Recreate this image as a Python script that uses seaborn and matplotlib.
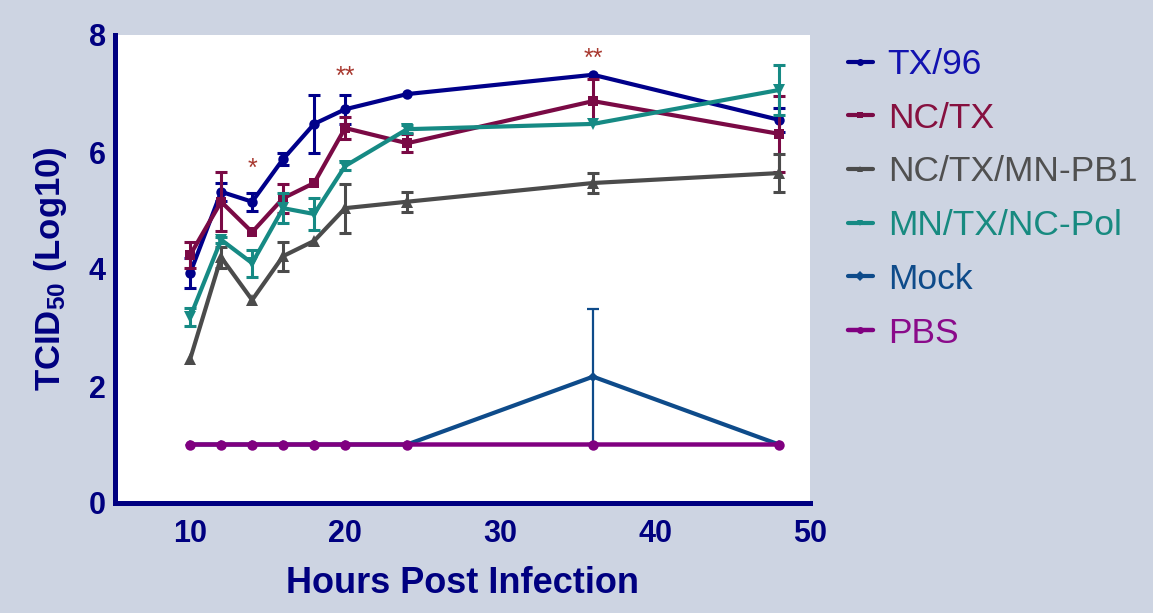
import numpy as np
import pandas as pd
import matplotlib
matplotlib.use("Agg")
import matplotlib.pyplot as plt
import seaborn as sns

# ---------------- data ----------------
hours = [10, 12, 14, 16, 18, 20, 24, 36, 48]
series_names = ["TX/96", "NC/TX", "NC/TX/MN-PB1", "MN/TX/NC-Pol", "Mock", "PBS"]

tx96 = [3.93, 5.32, 5.15, 5.88, 6.48, 6.73, 6.99, 7.32, 6.55]
tx96_err = [0.25, 0.15, 0.15, 0.10, 0.50, 0.25, 0.0, 0.0, 0.20]
nctx = [4.24, 5.15, 4.63, 5.21, 5.47, 6.41, 6.15, 6.87, 6.31]
nctx_err = [0.23, 0.50, 0.0, 0.25, 0.0, 0.18, 0.15, 0.38, 0.65]
pb1 = [2.46, 4.20, 3.47, 4.22, 4.48, 5.04, 5.15, 5.47, 5.64]
pb1_err = [0.0, 0.18, 0.0, 0.25, 0.0, 0.42, 0.17, 0.17, 0.33]
pol = [3.18, 4.50, 4.10, 5.04, 4.94, 5.76, 6.39, 6.48, 7.06]
pol_err = [0.15, 0.05, 0.23, 0.26, 0.28, 0.07, 0.07, 0.0, 0.42]
mock = [1.0, 1.0, 1.0, 1.0, 1.0, 1.0, 1.0, 2.16, 1.0]
mock_err = [0, 0, 0, 0, 0, 0, 0, 1.15, 0]
pbs = [1.0, 1.0, 1.0, 1.0, 1.0, 1.0, 1.0, 1.0, 1.0]
pbs_err = [0, 0, 0, 0, 0, 0, 0, 0, 0]

sig_hours = [14, 20, 36]
sig_labels = ["*", "**", "**"]
sig_y = [5.72, 7.28, 7.59]

xticks = [10, 20, 30, 40, 50]
yticks = [0, 2, 4, 6, 8]

# ---------------- style ----------------
sns.set_style("white")
plt.rcParams["font.family"] = ["Liberation Sans", "DejaVu Sans"]
plt.rcParams["mathtext.default"] = "regular"

NAVY = "#000080"
BG = "#cdd4e2"
line_colors = ["#00008a", "#7a0a45", "#4b4b4b", "#168a84", "#0e4b8a", "#800080"]
text_colors = ["#1212b0", "#86103f", "#505050", "#178a80", "#0e4b8a", "#8a0a8a"]
markers = ["o", "s", "^", "v", "D", "o"]
msizes = [7.5, 7, 8, 8, 5, 7.5]
lwidths = [3.0, 3.0, 3.0, 3.0, 3.0, 3.2]
ewidths = [2.2, 2.2, 2.2, 2.2, 1.6, 2.2]

values = [tx96, nctx, pb1, pol, mock, pbs]
errors = [tx96_err, nctx_err, pb1_err, pol_err, mock_err, pbs_err]

fig = plt.figure(figsize=(11.53, 6.13), dpi=100, facecolor=BG)
ax = fig.add_axes([115 / 1153, 1 - 503 / 613, 695 / 1153, 468 / 613])
ax.set_facecolor("white")

x_arr = np.array(hours, dtype=float)
for i, name in enumerate(series_names):
    y = np.array(values[i], dtype=float)
    e = np.array(errors[i], dtype=float)
    z = 3 + i * 0.1
    df = pd.DataFrame({"hours": x_arr, "value": y})
    sns.lineplot(data=df, x="hours", y="value", ax=ax, color=line_colors[i],
                 marker=markers[i], markersize=msizes[i], markeredgewidth=0,
                 linewidth=lwidths[i], label=name, zorder=z)
    m = e > 0
    if m.any():
        ax.errorbar(x_arr[m], y[m], yerr=e[m], fmt="none", ecolor=line_colors[i],
                    elinewidth=ewidths[i], capsize=4.5, capthick=ewidths[i], zorder=z)

for ln in ax.lines:
    ln.set_snap(False)

for hx, lab, hy in zip(sig_hours, sig_labels, sig_y):
    ax.text(hx, hy, lab, color="#a8382f", fontsize=18, ha="center", va="center", zorder=10)

ax.set_xlim(5.15, 50)
ax.set_ylim(0, 8)
ax.set_xticks(xticks)
ax.set_yticks(yticks)
ax.set_xticklabels([str(t) for t in xticks])
ax.set_yticklabels([str(t) for t in yticks])

for s in ["top", "right"]:
    ax.spines[s].set_visible(False)
for s in ["left", "bottom"]:
    ax.spines[s].set_color(NAVY)
    ax.spines[s].set_linewidth(3.6)
    ax.spines[s].set_capstyle("projecting")

ax.tick_params(axis="both", direction="out", length=4.5, width=3.6, color=NAVY,
               labelcolor=NAVY, labelsize=22)
ax.tick_params(axis="x", pad=7)
ax.tick_params(axis="y", pad=2)
for t in ax.get_xticklabels() + ax.get_yticklabels():
    t.set_fontweight("bold")

ax.set_xlabel("Hours Post Infection", fontsize=26, fontweight="bold", color=NAVY)
ax.xaxis.set_label_coords(0.5, -0.135)
ax.set_ylabel("TCID$_{50}$ (Log10)", fontsize=25, fontweight="bold", color=NAVY)
ax.yaxis.set_label_coords(-0.066, 0.5)

handles, labels = ax.get_legend_handles_labels()
leg = ax.legend(handles, labels, loc="upper left",
                bbox_to_anchor=(848 / 1153, 1 - 48 / 613), bbox_transform=fig.transFigure,
                frameon=False, fontsize=25.5, handlelength=0.7, handletextpad=0.42,
                labelspacing=0.585, borderpad=0, borderaxespad=0, numpoints=1)
for txt, c in zip(leg.get_texts(), text_colors):
    txt.set_color(c)
for h in leg.get_lines():
    h.set_markersize(5)

fig.savefig("out.png", dpi=100, facecolor=BG)
